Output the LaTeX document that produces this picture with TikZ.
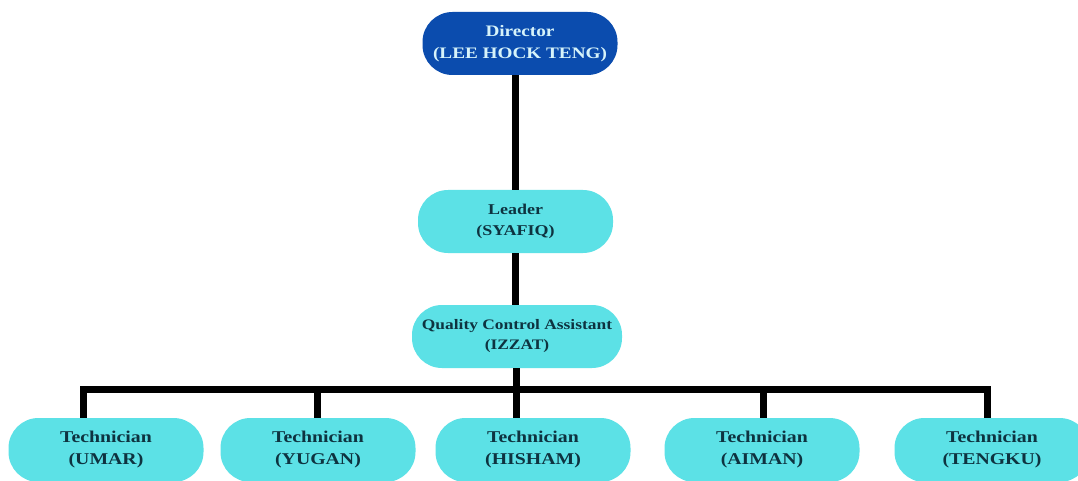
\documentclass[tikz,border=0pt]{standalone}
\usepackage{fontspec}
\setmainfont{Liberation Serif}[FakeStretch=1.2]
\definecolor{dirblue}{HTML}{0B4CAE}
\definecolor{boxcyan}{HTML}{5CE1E6}
\definecolor{txtdark}{HTML}{0E3340}
\definecolor{dirtext}{HTML}{D6F3FA}
\tikzset{
  pill/.style={rectangle, rounded corners=30pt, fill=boxcyan, text=txtdark, align=center,
    minimum width=195pt, minimum height=63pt, inner sep=0pt,
    font=\bfseries\fontsize{15}{21}\selectfont},
  dirpill/.style={pill, fill=dirblue, text=dirtext, font=\bfseries\fontsize{16}{22}\selectfont},
  techpill/.style={pill, minimum height=64pt, font=\bfseries\fontsize{16.5}{22}\selectfont},
  conn/.style={draw=black, line width=7pt, line join=miter},
}
\begin{document}
\begin{tikzpicture}[x=1pt,y=-1pt]
\useasboundingbox[fill=white] (0,0) rectangle (1078,481);
\node[dirpill] (dir) at (520,43.5) {Director\\(LEE HOCK TENG)};
\node[pill] (lead) at (515.5,221.5) {Leader\\(SYAFIQ)};
\node[pill, minimum width=210pt, font=\bfseries\fontsize{14.5}{20}\selectfont] (qca) at (517,336.5) {Quality Control Assistant\\(IZZAT)};
\node[techpill] (umar) at (106,450) {Technician\\(UMAR)};
\node[techpill] (yugan) at (318,450) {Technician\\(YUGAN)};
\node[techpill] (hisham) at (533,450) {Technician\\(HISHAM)};
\node[techpill] (aiman) at (762,450) {Technician\\(AIMAN)};
\node[techpill] (tengku) at (992,450) {Technician\\(TENGKU)};
\coordinate (cl) at (83,389);
\coordinate (cm) at (516,389);
\coordinate (cr) at (987,389);
\coordinate (cy) at (317,389);
\coordinate (ca) at (763,389);
\draw[conn] (lead.north -| 515,0) -- (dir.south -| 515,0);
\draw[conn] (qca.north -| 515,0) -- (lead.south -| 515,0);
\draw[conn] (qca.south -| cm) -- (cm);
\draw[conn] (umar.north -| cl) -- (cl) -- (cr) -- (tengku.north -| cr);
\draw[conn] (cy) -- (yugan.north -| cy);
\draw[conn] (cm) -- (hisham.north -| cm);
\draw[conn] (ca) -- (aiman.north -| ca);
\end{tikzpicture}
\end{document}
